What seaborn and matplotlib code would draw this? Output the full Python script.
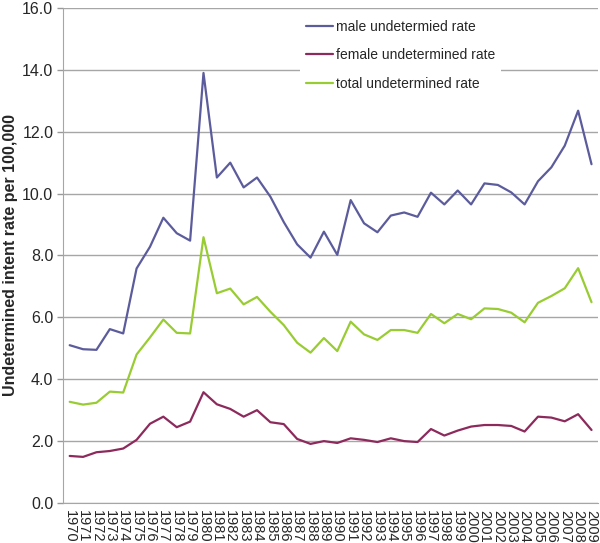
import numpy as np
import pandas as pd
import matplotlib
matplotlib.use("Agg")
import matplotlib.pyplot as plt
import seaborn as sns

years = list(range(1970, 2010))

male_rate = [5.10, 4.97, 4.95, 5.62, 5.48, 7.58, 8.28, 9.22, 8.72, 8.48,
             13.90, 10.52, 11.00, 10.20, 10.52, 9.90, 9.08, 8.36, 7.93, 8.77,
             8.02, 9.79, 9.04, 8.75, 9.29, 9.39, 9.25, 10.03, 9.65, 10.10,
             9.65, 10.33, 10.28, 10.04, 9.65, 10.40, 10.85, 11.55, 12.68, 10.95]

female_rate = [1.52, 1.49, 1.64, 1.68, 1.76, 2.04, 2.56, 2.79, 2.45, 2.63,
               3.58, 3.19, 3.04, 2.79, 3.00, 2.61, 2.55, 2.07, 1.91, 2.00,
               1.94, 2.09, 2.04, 1.97, 2.09, 2.00, 1.97, 2.39, 2.18, 2.34,
               2.47, 2.52, 2.52, 2.49, 2.31, 2.79, 2.76, 2.64, 2.87, 2.36]

total_rate = [3.27, 3.18, 3.24, 3.60, 3.57, 4.80, 5.35, 5.93, 5.50, 5.48,
              8.59, 6.78, 6.93, 6.42, 6.66, 6.18, 5.75, 5.18, 4.86, 5.33,
              4.91, 5.86, 5.45, 5.27, 5.59, 5.59, 5.50, 6.11, 5.81, 6.11,
              5.94, 6.29, 6.27, 6.15, 5.84, 6.47, 6.69, 6.94, 7.59, 6.49]

series_names = ["male undetermied rate", "female undetermined rate", "total undetermined rate"]
colors = ["#5c5c9c", "#8c2a5c", "#99cc33"]

df = pd.DataFrame({"year": years, series_names[0]: male_rate,
                   series_names[1]: female_rate, series_names[2]: total_rate})
long_df = df.melt(id_vars="year", var_name="series", value_name="rate")

sns.set_style("white")
plt.rcParams["font.family"] = ["Liberation Sans", "DejaVu Sans"]

fig = plt.figure(figsize=(6.0, 5.43), dpi=100)
ax = fig.add_axes([0.105, 0.0737, 0.892, 0.9116])

sns.lineplot(data=long_df, x="year", y="rate", hue="series", hue_order=series_names,
             palette=colors, linewidth=1.6, ax=ax)

ax.set_xlim(1969.5, 2009.5)
ax.set_ylim(0, 16)
ax.set_yticks(np.arange(0, 16.1, 2))
ax.set_yticklabels([f"{v:.1f}" for v in np.arange(0, 16.1, 2)], fontsize=11.5)
ax.set_xticks(years)
ax.set_xticklabels([str(y) for y in years], rotation=270, fontsize=10.5)
ax.set_xticks(np.arange(1969.5, 2010, 1), minor=True)
ax.tick_params(axis="x", which="major", length=0, pad=5)
ax.tick_params(axis="x", which="minor", length=4, color="#999999", width=1)
ax.tick_params(axis="y", length=4, color="#999999", width=1, left=True, pad=3)

ax.yaxis.grid(True, color="#a6a6a6", linewidth=1)
ax.set_axisbelow(True)
for side in ["top", "right"]:
    ax.spines[side].set_visible(False)
ax.spines["left"].set_color("#a6a6a6")
ax.spines["bottom"].set_color("#a6a6a6")

ax.set_xlabel("")
ax.set_ylabel("Undetermined intent rate per 100,000", fontsize=11.5, fontweight="bold", labelpad=3)

leg = ax.legend(loc="upper left", bbox_to_anchor=(300 / 600, 1 - 14 / 543),
                bbox_transform=fig.transFigure, fontsize=10, frameon=True,
                handlelength=1.95, labelspacing=1.05, borderpad=0.4,
                borderaxespad=0, handletextpad=0.25)
leg.get_frame().set_facecolor("white")
leg.get_frame().set_edgecolor("none")
leg.get_frame().set_alpha(1)

fig.savefig("out.png", dpi=100)
